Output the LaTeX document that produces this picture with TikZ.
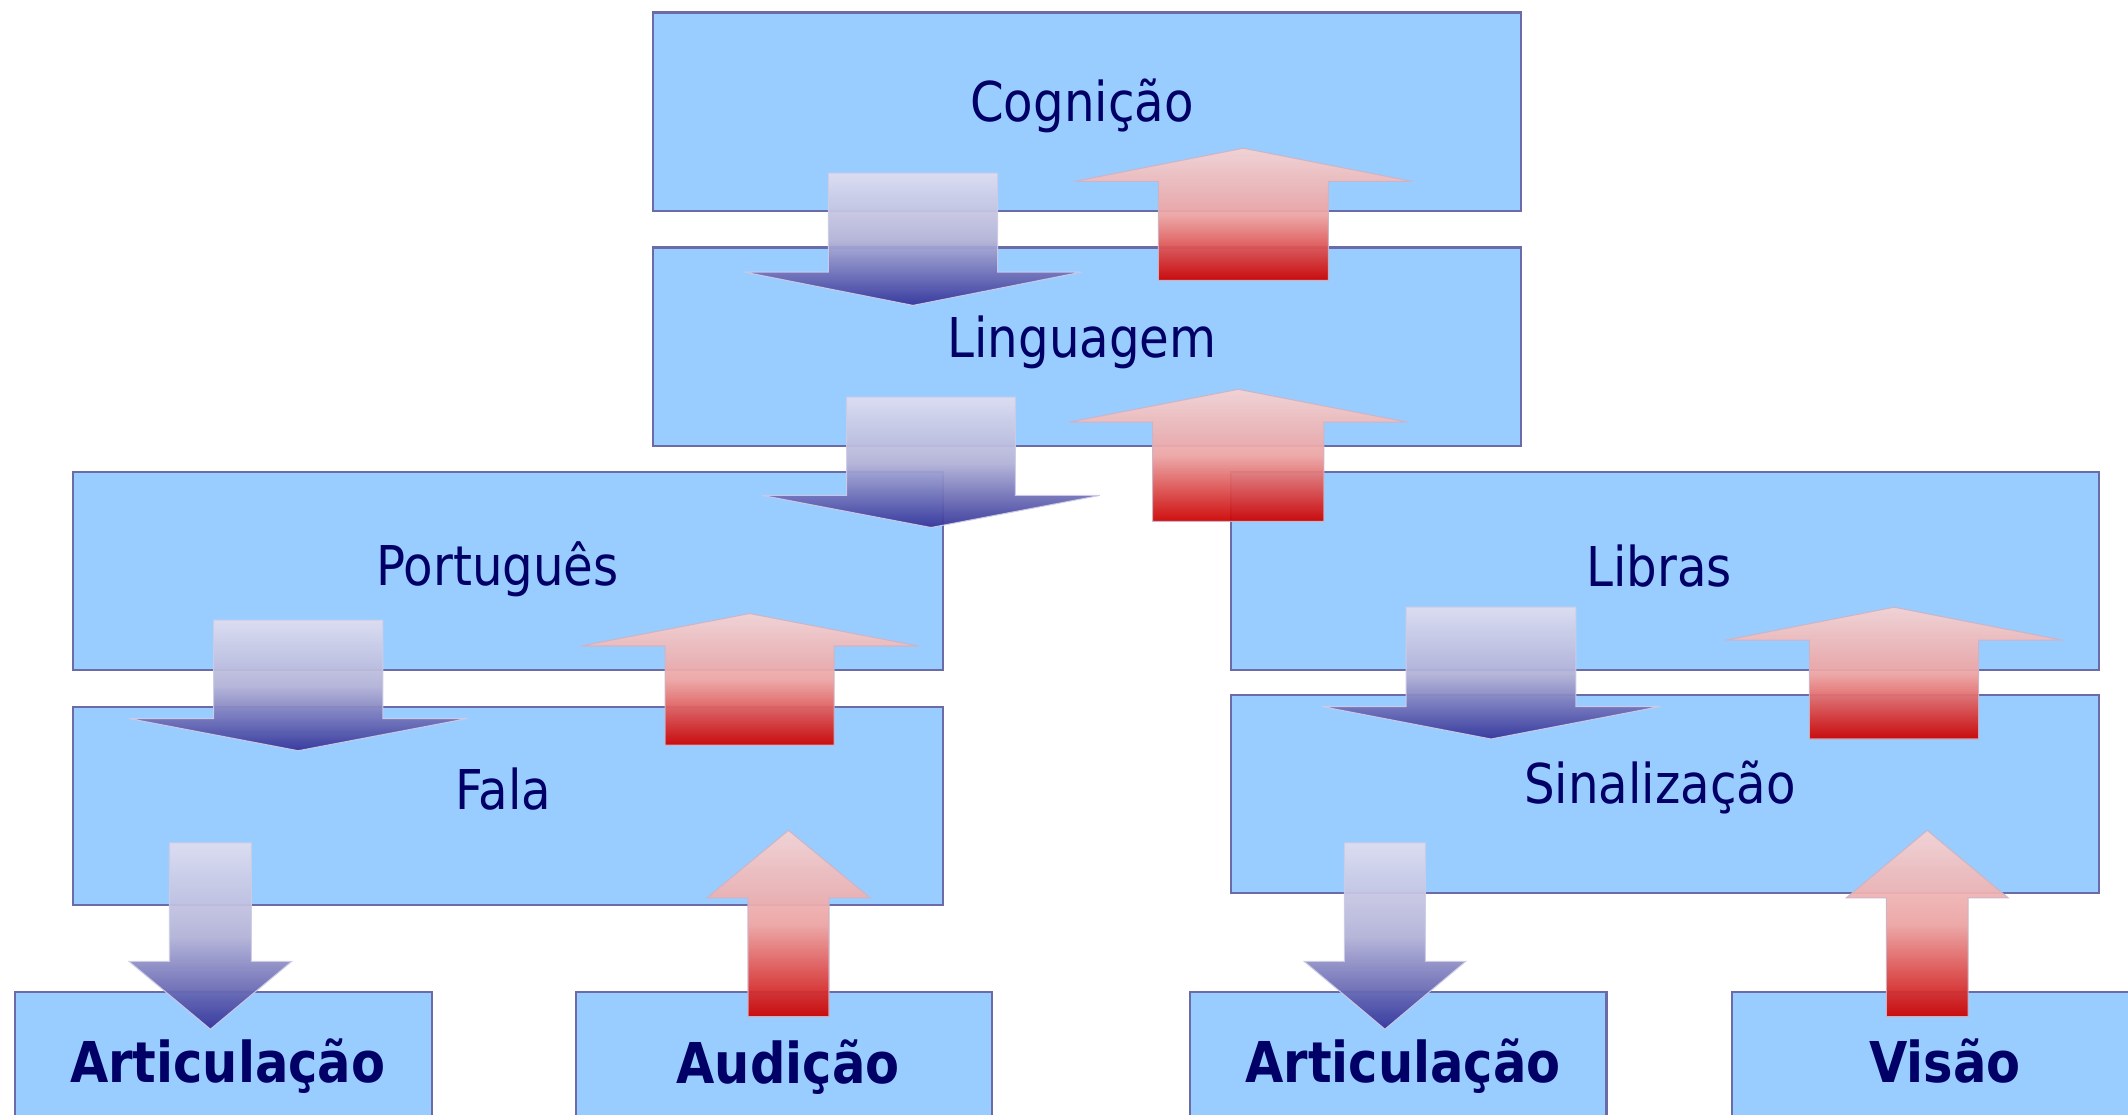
\documentclass[tikz,border=0pt]{standalone}
\usepackage{fontspec}
\newfontfamily\boxfont[FakeStretch=0.88]{DejaVu Sans}
\definecolor{boxfill}{HTML}{99CCFF}
\definecolor{boxline}{HTML}{6B6BA8}
\definecolor{txt}{HTML}{000066}
\definecolor{dtop}{HTML}{DEDEF0}
\definecolor{dmid}{HTML}{B2B2D8}
\definecolor{dbot}{HTML}{333399}
\definecolor{utop}{HTML}{F5D3D3}
\definecolor{umid}{HTML}{ECA4A4}
\definecolor{ubot}{HTML}{CC0000}
\tikzset{
  box/.style={fill=boxfill, draw=boxline, line width=0.6pt},
  lbl/.style={anchor=base, text=txt, inner sep=0pt, font=\boxfont\fontsize{15.6}{18}\selectfont},
  blbl/.style={anchor=base, text=txt, inner sep=0pt, font=\boxfont\bfseries\fontsize{16}{19}\selectfont},
  downarr/.style={top color=dtop, bottom color=dbot, middle color=dmid, draw=dtop!60!dbot!50, line width=0.3pt, opacity=0.94},
  uparr/.style={top color=utop, bottom color=ubot, middle color=umid, draw=utop!70!boxline, line width=0.3pt, opacity=0.94}
}
% #1 style, #2 centre x, #3 shaft half width, #4 head half width, #5 shaft end y, #6 head base y, #7 tip y
\newcommand{\blockarrow}[7]{%
  \path[#1] ({#2-#3},#5) -- ({#2+#3},#5) -- ({#2+#3},#6) -- ({#2+#4},#6) -- (#2,#7) -- ({#2-#4},#6) -- ({#2-#3},#6) -- cycle;}
\begin{document}
\begin{tikzpicture}[x=0.01cm,y=-0.01cm]
\useasboundingbox (0,0) rectangle (2128,1114);
\clip (0,0) rectangle (2128,1114);
% boxes
\draw[box] (652.6,12.5) rectangle (1521.2,210.7);
\draw[box] (652.6,247.5) rectangle (1521.2,446.4);
\draw[box] (73.3,471.7) rectangle (942.6,669.8);
\draw[box] (73.3,706.9) rectangle (942.6,905.4);
\draw[box] (1231.4,471.7) rectangle (2099.4,669.8);
\draw[box] (1231.4,694.8) rectangle (2099.4,892.9);
\draw[box] (14.7,991.7) rectangle (431.8,1190);
\draw[box] (575.9,991.7) rectangle (991.7,1190);
\draw[box] (1190.3,991.7) rectangle (1606.5,1190);
\draw[box] (1732.3,991.7) rectangle (2149,1190);
% labels
\node[lbl] (cog) at (1082,121.7) {Cognição};
\node[lbl] (ling) at (1082,357.1) {Linguagem};
\node[lbl] (port) at (497.5,585.9) {Português};
\node[lbl] (fala) at (503,809.5) {Fala};
\node[lbl] (libras) at (1659,586) {Libras};
\node[lbl] (sinal) at (1660,803.2) {Sinalização};
\node[blbl] (artl) at (227.7,1082.7) {Articulação};
\node[blbl] (aud) at (788,1083.4) {Audição};
\node[blbl] (artr) at (1403,1082.7) {Articulação};
\node[blbl] (vis) at (1945,1082.7) {Visão};
% block arrows
\blockarrow{downarr}{913}{84.7}{168.5}{173.2}{272.1}{305.4}
\blockarrow{uparr}{1243.4}{85}{168.8}{280.4}{181.4}{148.2}
\blockarrow{downarr}{931}{84.4}{168.8}{397.1}{495.4}{527.5}
\blockarrow{uparr}{1238.3}{85.6}{169}{521.4}{422.1}{389.3}
\blockarrow{downarr}{298.2}{84.6}{169.4}{620.1}{718.5}{750.7}
\blockarrow{uparr}{749.6}{84.5}{169}{745.2}{646}{613.5}
\blockarrow{downarr}{210.4}{40.9}{81.4}{842.8}{961.3}{1029.2}
\blockarrow{uparr}{788.5}{40.5}{81.7}{1016.7}{897.9}{830.3}
\blockarrow{downarr}{1491}{84.9}{169.3}{607.2}{706.5}{739}
\blockarrow{uparr}{1894}{84.6}{168.7}{739}{640.2}{607.2}
\blockarrow{downarr}{1384.9}{40.5}{80.8}{842.8}{961.3}{1029.2}
\blockarrow{uparr}{1927.2}{40.8}{81}{1016.7}{897.9}{830.3}
\end{tikzpicture}
\end{document}
